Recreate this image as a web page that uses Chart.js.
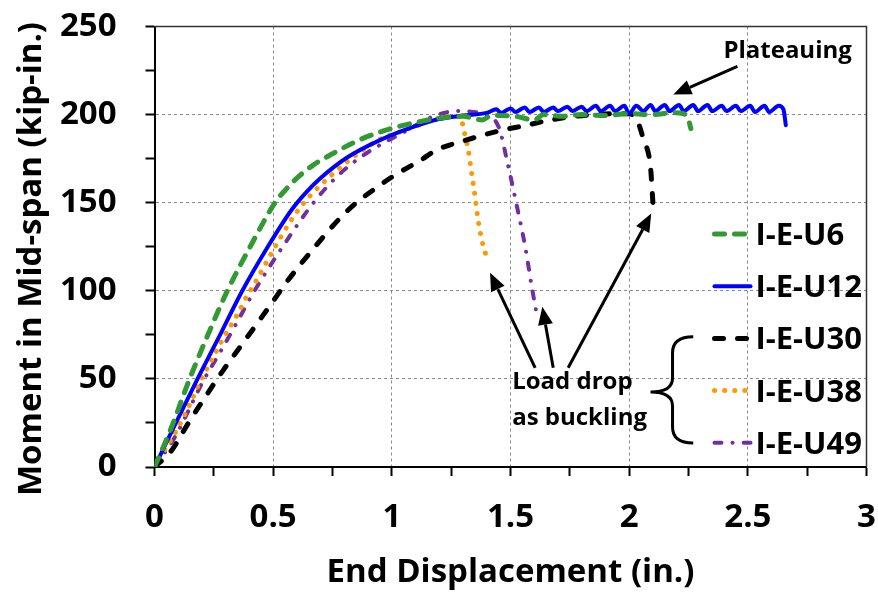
<!DOCTYPE html>
<html>
<head>
<meta charset="utf-8">
<script src="https://cdn.jsdelivr.net/npm/chart.js@4.4.1/dist/chart.umd.min.js"></script>
<style>
  html, body { margin: 0; padding: 0; background: #fff; }
  canvas { display: block; }
</style>
</head>
<body>
<canvas id="chart" width="878" height="592"></canvas>
<script>
// tick labels
const xTicks = [0, 0.5, 1, 1.5, 2, 2.5, 3];
const yTicks = [0, 50, 100, 150, 200, 250];

const names = ['I-E-U6', 'I-E-U12', 'I-E-U30', 'I-E-U38', 'I-E-U49'];

// [end displacement (in.), moment (kip-in.)]
const u6 = [[0,0],[0.07,22],[0.145,49],[0.225,75],[0.307,100],[0.403,125],[0.508,150],[0.56,158.5],[0.613,165.5],[0.67,171.5],[0.733,176.5],[0.866,185.8],[1.006,192.4],[1.1,195.5],[1.2,198],[1.3,199],[1.38,197],[1.42,199.5],[1.52,199],[1.6,197],[1.64,200],[1.72,199],[1.8,200],[1.9,199.5],[2.0,200.5],[2.1,200],[2.18,201],[2.23,200.5],[2.25,197],[2.26,192]];

const u12 = [[0,0],[0.09,25],[0.185,51],[0.28,76],[0.37,100],[0.473,124],[0.578,146],[0.64,156],[0.70,164],[0.81,175.5],[0.95,185.5],[1.09,193],[1.2,197.5],[1.3,199.5],[1.40,201],
  [1.44,203],[1.46,201],[1.50,203.5],[1.52,201.5],[1.56,204],[1.58,201.5],[1.62,204],[1.64,201.5],[1.68,204],[1.70,202],[1.74,204.5],[1.76,202],[1.80,204.5],[1.82,202],[1.86,205],[1.88,202],[1.92,205],[1.94,202],[1.98,205],[2.00,200.5],[2.03,205],[2.06,202],[2.09,205.5],[2.11,202],[2.15,205.5],[2.17,202],[2.21,205.5],[2.23,202],[2.27,205.5],[2.29,202],[2.33,205.5],[2.35,202],[2.39,205],[2.41,202],[2.45,205],[2.47,202],[2.51,205],[2.53,201.5],[2.57,205],[2.59,201.5],[2.63,205],[2.65,203],[2.66,194]];

const u30 = [[0,0],[0.07,9],[0.143,25],[0.22,41],[0.29,55],[0.36,68],[0.43,81],[0.494,93],[0.557,105],[0.67,124],[0.78,141],[0.85,150],[0.93,158],[1.005,165],[1.12,174],[1.19,180],[1.30,185],[1.46,191],[1.57,194],[1.67,197],[1.85,200],[2.0,200.5],[2.033,197],[2.06,186],[2.09,170],[2.10,150]];

const u38 = [[0,0],[0.044,10],[0.094,21],[0.15,36],[0.19,48],[0.234,59],[0.297,75],[0.347,86],[0.389,97],[0.417,103],[0.50,123],[0.585,142],[0.656,154],[0.74,165],[0.838,176],[0.95,186],[1.063,191.5],[1.175,197],[1.24,199],[1.29,198.5],[1.302,192],[1.323,179],[1.337,166],[1.351,153],[1.365,139],[1.386,125],[1.407,117]];

const u49 = [[0,0],[0.086,17],[0.206,49],[0.276,65],[0.347,82],[0.417,99],[0.54,125],[0.67,150],[0.77,165],[0.87,176],[0.96,183.5],[1.05,190],[1.175,199],[1.274,202],[1.38,200.5],[1.45,193],[1.49,171],[1.527,148],[1.562,125],[1.59,102],[1.61,87]];

const FONT = '"Open Sans", Lato, sans-serif';

const styles = [
  { color: '#339933', width: 5, dash: [10, 10], cap: 'round' },
  { color: '#0000ff', width: 4, dash: [], cap: 'round' },
  { color: '#000000', width: 5, dash: [9, 14], cap: 'round' },
  { color: '#ff9900', width: 5, dash: [0.1, 10], cap: 'round' },
  { color: '#7030a0', width: 4, dash: [7, 11, 0.1, 11], cap: 'round' },
];

const series = [u6, u12, u30, u38, u49];

const datasets = series.map((s, i) => ({
  label: names[i],
  data: s.map(p => ({ x: p[0], y: p[1] })),
  borderColor: styles[i].color,
  borderWidth: styles[i].width,
  borderDash: styles[i].dash,
  borderCapStyle: styles[i].cap,
  borderJoinStyle: 'round',
  pointRadius: 0,
  fill: false,
  cubicInterpolationMode: 'monotone',
}));

function arrow(ctx, x0, y0, x1, y1) {
  const a = Math.atan2(y1 - y0, x1 - x0);
  const len = 18, half = 7.5;
  const bx = x1 - len * Math.cos(a), by = y1 - len * Math.sin(a);
  ctx.beginPath();
  ctx.moveTo(x0, y0);
  ctx.lineTo(bx, by);
  ctx.stroke();
  ctx.beginPath();
  ctx.moveTo(x1, y1);
  ctx.lineTo(bx + half * Math.sin(a), by - half * Math.cos(a));
  ctx.lineTo(bx - half * Math.sin(a), by + half * Math.cos(a));
  ctx.closePath();
  ctx.fill();
}

const frame = {
  id: 'frame',
  beforeDatasetsDraw(chart) {
    const { ctx, chartArea: a } = chart;
    ctx.save();
    ctx.strokeStyle = '#333';
    ctx.lineWidth = 1.5;
    ctx.beginPath();
    ctx.moveTo(a.left, a.top);
    ctx.lineTo(a.right, a.top);
    ctx.lineTo(a.right, a.bottom);
    ctx.stroke();
    ctx.restore();
  }
};

const notes = {
  id: 'notes',
  afterDraw(chart) {
    const { ctx, chartArea: a, scales: { x, y } } = chart;
    const P = (vx, vy) => [x.getPixelForValue(vx), y.getPixelForValue(vy)];
    ctx.save();
    ctx.fillStyle = '#000';
    ctx.textBaseline = 'alphabetic';

    // axis titles
    ctx.font = 'bold 33px ' + FONT;
    ctx.textAlign = 'center';
    ctx.fillText('End Displacement (in.)', (a.left + a.right) / 2, a.bottom + 115);
    ctx.save();
    ctx.translate(41, 259);
    ctx.rotate(-Math.PI / 2);
    ctx.fillText('Moment in Mid-span (kip-in.)', 0, 0);
    ctx.restore();

    // legend
    ctx.textAlign = 'left';
    ctx.font = 'bold 31px ' + FONT;
    chart.data.datasets.forEach((ds, i) => {
      const base = a.top + 218.5 + i * 52.2;
      ctx.save();
      ctx.strokeStyle = ds.borderColor;
      ctx.lineWidth = ds.borderWidth;
      ctx.lineCap = ds.borderCapStyle;
      ctx.setLineDash(ds.borderDash);
      ctx.beginPath();
      ctx.moveTo(a.right - 152, base - 11);
      ctx.lineTo(a.right - 116, base - 11);
      ctx.stroke();
      ctx.restore();
      ctx.fillText(ds.label, a.right - 111, base);
    });

    ctx.strokeStyle = '#000';
    ctx.lineWidth = 3;

    // plateau note
    ctx.font = 'bold 24px ' + FONT;
    ctx.fillText('Plateauing', ...P(2.397, 232.2));
    arrow(ctx, ...P(2.456, 227.3), ...P(2.186, 211.4));

    // buckling note
    ctx.fillText('Load drop', ...P(1.507, 44.3));
    ctx.fillText('as buckling', ...P(1.507, 23.9));
    arrow(ctx, ...P(1.604, 56.3), ...P(1.414, 110.2));
    arrow(ctx, ...P(1.680, 56.3), ...P(1.634, 90.9));
    arrow(ctx, ...P(1.743, 56.3), ...P(2.093, 143.8));

    // brace
    const [tx, ty] = P(2.09, 42.6);
    const rx = x.getPixelForValue(2.27);
    const top = y.getPixelForValue(73.9), bot = y.getPixelForValue(13.6);
    const mx = tx + 22;
    ctx.beginPath();
    ctx.moveTo(rx, top);
    ctx.quadraticCurveTo(mx, top, mx, top + 16);
    ctx.lineTo(mx, ty - 14);
    ctx.quadraticCurveTo(mx, ty, tx, ty);
    ctx.quadraticCurveTo(mx, ty, mx, ty + 14);
    ctx.lineTo(mx, bot - 16);
    ctx.quadraticCurveTo(mx, bot, rx, bot);
    ctx.stroke();

    ctx.restore();
  }
};

new Chart(document.getElementById('chart'), {
  type: 'line',
  data: { datasets },
  plugins: [frame, notes],
  options: {
    responsive: false,
    animation: false,
    layout: { padding: { top: 26.5, right: 11.5, left: 0, bottom: 0 } },
    plugins: { legend: { display: false }, tooltip: { enabled: false } },
    scales: {
      x: {
        type: 'linear',
        min: 0,
        max: 3,
        afterFit: s => { s.height = 125; s.paddingLeft = 0; s.paddingRight = 0; },
        grid: {
          color: c => (xTicks.includes(c.tick.value) && c.tick.value > 0 && c.tick.value < 3) ? '#8a8a8a' : 'rgba(0,0,0,0)',
          lineWidth: 1,
          tickColor: '#000',
          tickWidth: 2,
          tickLength: 9,
        },
        border: { color: '#000', width: 2, dash: [3, 3] },
        ticks: {
          stepSize: 0.25,
          autoSkip: false,
          maxRotation: 0,
          padding: 22,
          color: '#000',
          font: { family: FONT, size: 33, weight: 'bold' },
          callback: v => xTicks.includes(v) ? String(v) : '',
        },
      },
      y: {
        type: 'linear',
        min: 0,
        max: 250,
        afterFit: s => { s.width = 154.5; s.paddingTop = 0; s.paddingBottom = 0; },
        grid: {
          color: c => (yTicks.includes(c.tick.value) && c.tick.value > 0 && c.tick.value < 250) ? '#8a8a8a' : 'rgba(0,0,0,0)',
          lineWidth: 1,
          tickColor: '#000',
          tickWidth: 2,
          tickLength: 9,
        },
        border: { color: '#000', width: 2, dash: [3, 3] },
        ticks: {
          stepSize: 25,
          autoSkip: false,
          padding: 29,
          color: '#000',
          font: { family: FONT, size: 33, weight: 'bold' },
          callback: v => yTicks.includes(v) ? String(v) : '',
        },
      },
    },
  },
});
</script>
</body>
</html>
